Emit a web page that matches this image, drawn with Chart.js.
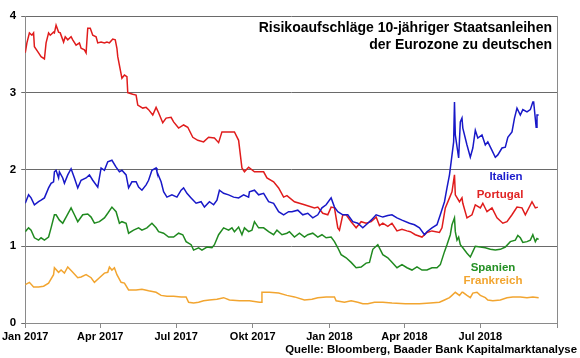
<!DOCTYPE html>
<html>
<head>
<meta charset="utf-8">
<script src="https://cdn.jsdelivr.net/npm/chart.js@4.4.0/dist/chart.umd.min.js"></script>
<style>
  html, body { margin: 0; padding: 0; background: #fff; }
  canvas { display: block; }
</style>
</head>
<body>
<canvas id="chart" width="580" height="358"></canvas>
<script>
// x = Tage seit 1.1.2017
var tickDays = [0, 90, 181, 273, 365, 455, 546, 638];
var tickLabels = ['Jan 2017', 'Apr 2017', 'Jul 2017', 'Okt 2017', 'Jan 2018', 'Apr 2018', 'Jul 2018', ''];
var yTicks = [0, 1, 2, 3, 4];

var portugal = [[0,3.52],[2,3.65],[5,3.78],[8,3.75],[10,3.78],[11,3.60],[16,3.52],[19,3.47],[23,3.44],[25,3.65],[28,3.78],[30,3.75],[34,3.79],[35,3.78],[37,3.88],[40,3.79],[42,3.78],[46,3.66],[48,3.73],[51,3.69],[55,3.73],[57,3.69],[61,3.62],[65,3.65],[67,3.58],[71,3.56],[73,3.52],[75,3.84],[78,3.84],[81,3.75],[85,3.73],[87,3.65],[91,3.66],[95,3.65],[98,3.66],[101,3.65],[105,3.70],[108,3.69],[110,3.58],[111,3.47],[114,3.30],[116,3.19],[119,3.23],[122,3.21],[123,3.00],[129,2.98],[133,2.97],[135,2.84],[141,2.80],[145,2.81],[148,2.78],[153,2.71],[157,2.81],[160,2.74],[165,2.61],[169,2.67],[175,2.68],[178,2.62],[184,2.54],[190,2.58],[195,2.55],[201,2.42],[207,2.38],[214,2.36],[220,2.42],[227,2.41],[232,2.35],[236,2.49],[245,2.49],[251,2.49],[256,2.38],[260,2.02],[263,1.97],[268,2.03],[275,1.97],[286,1.97],[290,1.89],[298,1.84],[304,1.76],[310,1.64],[314,1.66],[323,1.58],[335,1.54],[347,1.50],[351,1.51],[357,1.43],[363,1.41],[367,1.51],[371,1.50],[375,1.24],[377,1.21],[381,1.41],[385,1.41],[391,1.32],[397,1.24],[403,1.32],[409,1.30],[415,1.32],[421,1.38],[425,1.27],[429,1.30],[435,1.26],[440,1.30],[446,1.20],[452,1.22],[458,1.20],[462,1.19],[468,1.15],[476,1.12],[482,1.18],[488,1.20],[497,1.18],[500,1.24],[504,1.50],[509,1.63],[512,1.71],[515,1.93],[516,1.67],[521,1.58],[524,1.63],[525,1.56],[530,1.37],[536,1.41],[540,1.54],[546,1.50],[549,1.56],[554,1.45],[560,1.50],[566,1.37],[573,1.30],[578,1.32],[584,1.41],[590,1.51],[596,1.50],[600,1.41],[608,1.58],[612,1.50],[615,1.51]];

var italien = [[0,1.56],[4,1.67],[7,1.63],[11,1.54],[16,1.58],[19,1.60],[23,1.63],[28,1.76],[31,1.82],[34,1.84],[35,1.97],[37,1.99],[40,1.89],[41,1.97],[45,1.89],[47,1.82],[51,1.93],[55,2.01],[59,1.89],[63,1.76],[67,1.86],[73,1.89],[77,1.93],[81,1.86],[87,1.77],[91,2.02],[95,1.99],[99,2.10],[104,2.12],[109,2.03],[113,1.97],[116,1.99],[121,1.93],[124,1.76],[128,1.84],[133,1.84],[136,1.77],[140,1.73],[145,1.80],[148,1.86],[152,1.99],[157,2.02],[158,1.97],[163,1.84],[166,1.71],[170,1.64],[176,1.67],[182,1.64],[187,1.73],[190,1.76],[194,1.69],[199,1.63],[205,1.56],[211,1.58],[215,1.51],[221,1.58],[226,1.54],[230,1.60],[233,1.73],[238,1.69],[244,1.67],[250,1.64],[256,1.63],[262,1.67],[268,1.64],[269,1.71],[275,1.73],[280,1.67],[286,1.69],[292,1.58],[298,1.56],[304,1.45],[310,1.41],[316,1.45],[320,1.45],[327,1.47],[333,1.41],[339,1.43],[345,1.37],[351,1.41],[356,1.50],[361,1.54],[367,1.63],[371,1.51],[375,1.45],[381,1.41],[387,1.41],[393,1.32],[399,1.30],[405,1.24],[411,1.30],[415,1.34],[421,1.41],[429,1.38],[435,1.40],[440,1.41],[446,1.37],[452,1.34],[461,1.30],[467,1.28],[473,1.24],[479,1.15],[482,1.19],[488,1.24],[494,1.28],[498,1.41],[503,1.58],[506,1.76],[509,1.93],[511,2.10],[514,2.36],[515,2.88],[516,2.45],[520,2.15],[522,2.62],[524,2.67],[525,2.54],[530,2.32],[534,2.16],[537,2.28],[540,2.51],[543,2.41],[548,2.45],[552,2.32],[555,2.36],[560,2.25],[564,2.16],[567,2.19],[572,2.28],[576,2.29],[579,2.42],[584,2.49],[587,2.67],[590,2.80],[594,2.71],[597,2.78],[602,2.75],[606,2.78],[609,2.88],[610,2.88],[613,2.55],[614,2.71],[616,2.71]];

var spanien = [[0,1.19],[4,1.24],[7,1.21],[11,1.11],[16,1.08],[19,1.11],[23,1.08],[28,1.12],[31,1.24],[35,1.41],[37,1.41],[41,1.34],[45,1.30],[49,1.38],[55,1.50],[59,1.41],[63,1.32],[69,1.41],[75,1.42],[79,1.38],[83,1.30],[89,1.32],[95,1.37],[99,1.43],[104,1.51],[109,1.45],[113,1.30],[116,1.32],[121,1.30],[124,1.17],[130,1.21],[136,1.24],[140,1.21],[146,1.24],[152,1.30],[157,1.24],[160,1.19],[166,1.17],[172,1.12],[178,1.12],[184,1.17],[189,1.15],[193,1.06],[199,1.02],[202,0.95],[208,0.98],[212,0.95],[218,0.99],[224,0.98],[227,1.02],[232,1.15],[238,1.24],[244,1.21],[248,1.24],[251,1.19],[256,1.25],[260,1.15],[263,1.24],[268,1.19],[272,1.21],[275,1.32],[280,1.24],[286,1.24],[292,1.19],[298,1.15],[302,1.21],[308,1.15],[314,1.17],[317,1.19],[323,1.12],[329,1.17],[335,1.12],[339,1.15],[345,1.17],[351,1.12],[356,1.15],[361,1.11],[367,1.12],[371,1.06],[375,0.98],[379,0.89],[385,0.85],[391,0.79],[397,0.72],[403,0.73],[409,0.78],[413,0.79],[417,0.96],[423,1.02],[429,0.89],[435,0.85],[440,0.79],[446,0.72],[452,0.76],[458,0.72],[464,0.69],[470,0.73],[476,0.69],[482,0.69],[488,0.72],[494,0.72],[498,0.76],[503,0.93],[506,1.02],[510,1.15],[512,1.28],[515,1.37],[516,1.19],[518,1.08],[520,1.12],[522,1.02],[525,0.98],[530,0.91],[534,0.86],[537,0.93],[540,1.00],[546,0.99],[552,0.98],[558,0.96],[564,0.95],[570,0.96],[576,0.99],[582,1.06],[588,1.08],[591,1.14],[594,1.11],[597,1.05],[602,1.06],[606,1.08],[609,1.15],[612,1.06],[614,1.10],[616,1.09]];

var frankreich = [[0,0.50],[5,0.53],[10,0.47],[16,0.47],[22,0.48],[28,0.52],[34,0.63],[35,0.72],[40,0.66],[43,0.69],[47,0.65],[51,0.73],[57,0.66],[63,0.59],[67,0.60],[73,0.63],[79,0.59],[83,0.53],[89,0.59],[95,0.65],[99,0.66],[101,0.73],[104,0.69],[107,0.72],[110,0.63],[115,0.53],[119,0.52],[124,0.43],[133,0.43],[140,0.44],[148,0.42],[157,0.40],[163,0.36],[170,0.35],[178,0.35],[187,0.34],[193,0.34],[196,0.27],[202,0.26],[208,0.27],[214,0.29],[221,0.30],[230,0.31],[238,0.33],[245,0.30],[257,0.29],[269,0.29],[281,0.27],[283,0.27],[284,0.40],[293,0.40],[304,0.39],[314,0.36],[323,0.34],[335,0.30],[344,0.31],[351,0.33],[361,0.34],[371,0.34],[373,0.29],[383,0.27],[391,0.29],[399,0.27],[405,0.25],[411,0.25],[419,0.27],[429,0.27],[440,0.26],[456,0.25],[473,0.25],[486,0.26],[497,0.27],[503,0.30],[509,0.33],[512,0.36],[516,0.40],[521,0.36],[524,0.40],[525,0.40],[530,0.36],[534,0.33],[537,0.39],[542,0.40],[546,0.36],[552,0.33],[555,0.30],[561,0.29],[570,0.30],[578,0.33],[585,0.34],[594,0.34],[602,0.33],[609,0.34],[616,0.33]];

var FONT = "'Liberation Sans', Arial, sans-serif";

function toPoints(arr) {
    return arr.map(function (p) { return { x: p[0], y: p[1] }; });
}

function serie(label, arr, color) {
    return {
        label: label,
        data: toPoints(arr),
        borderColor: color,
        backgroundColor: color,
        borderWidth: 1.5,
        pointRadius: 0,
        tension: 0,
        fill: false
    };
}

// Titel, Beschriftungen, Quelle und rechter Rahmen
var textPlugin = {
    id: 'texte',
    afterDraw: function (chart) {
        var ctx = chart.ctx;
        var area = chart.chartArea;
        ctx.save();
        ctx.strokeStyle = '#8a8a8a';
        ctx.lineWidth = 1;
        ctx.beginPath();
        ctx.moveTo(Math.round(area.right) + 0.5, area.top);
        ctx.lineTo(Math.round(area.right) + 0.5, area.bottom);
        ctx.stroke();

        ctx.fillStyle = '#000';
        ctx.textAlign = 'right';
        ctx.textBaseline = 'middle';
        ctx.font = 'bold 14px ' + FONT;
        ctx.fillText('Risikoaufschläge 10-jähriger Staatsanleihen', 552, 28);
        ctx.fillText('der Eurozone zu deutschen', 552, 45);

        ctx.font = 'bold 11.4px ' + FONT;
        ctx.fillText('Quelle: Bloomberg, Baader Bank Kapitalmarktanalyse', 577, 350);

        ctx.textAlign = 'center';
        ctx.font = 'bold 11.5px ' + FONT;
        ctx.fillStyle = '#1c1ccc';
        ctx.fillText('Italien', 506, 177);
        ctx.fillStyle = '#e02424';
        ctx.fillText('Portugal', 500, 195);
        ctx.fillStyle = '#249024';
        ctx.fillText('Spanien', 493, 268);
        ctx.fillStyle = '#f2a530';
        ctx.fillText('Frankreich', 493, 281);
        ctx.restore();
    }
};

new Chart(document.getElementById('chart'), {
    type: 'line',
    data: {
        datasets: [
            serie('Frankreich', frankreich, '#f2a530'),
            serie('Spanien', spanien, '#208a20'),
            serie('Italien', italien, '#1818c8'),
            serie('Portugal', portugal, '#e01c1c')
        ]
    },
    options: {
        responsive: false,
        animation: false,
        devicePixelRatio: 1,
        layout: { padding: { top: 16, right: 23, left: 0, bottom: 0 } },
        plugins: {
            legend: { display: false },
            title: { display: false },
            tooltip: { enabled: false }
        },
        scales: {
            x: {
                type: 'linear',
                min: 0,
                max: 638,
                afterBuildTicks: function (scale) {
                    scale.ticks = tickDays.map(function (d) { return { value: d }; });
                },
                afterFit: function (scale) { scale.height = 35; },
                grid: { drawOnChartArea: false, drawTicks: true, tickLength: 5, color: '#8a8a8a' },
                border: { color: '#8a8a8a' },
                ticks: {
                    autoSkip: false,
                    maxRotation: 0,
                    padding: 2,
                    color: '#000',
                    font: { family: FONT, size: 11, weight: 'bold' },
                    callback: function (v, i) { return tickLabels[i]; }
                }
            },
            y: {
                min: 0,
                max: 4,
                afterBuildTicks: function (scale) {
                    scale.ticks = yTicks.map(function (v) { return { value: v }; });
                },
                afterFit: function (scale) { scale.width = 24; },
                grid: { color: '#6a6a6a', lineWidth: 1, tickLength: 4 },
                border: { color: '#8a8a8a' },
                ticks: {
                    padding: 5,
                    color: '#000',
                    font: { family: FONT, size: 11.5, weight: 'bold' }
                }
            }
        }
    },
    plugins: [textPlugin]
});
</script>
</body>
</html>
